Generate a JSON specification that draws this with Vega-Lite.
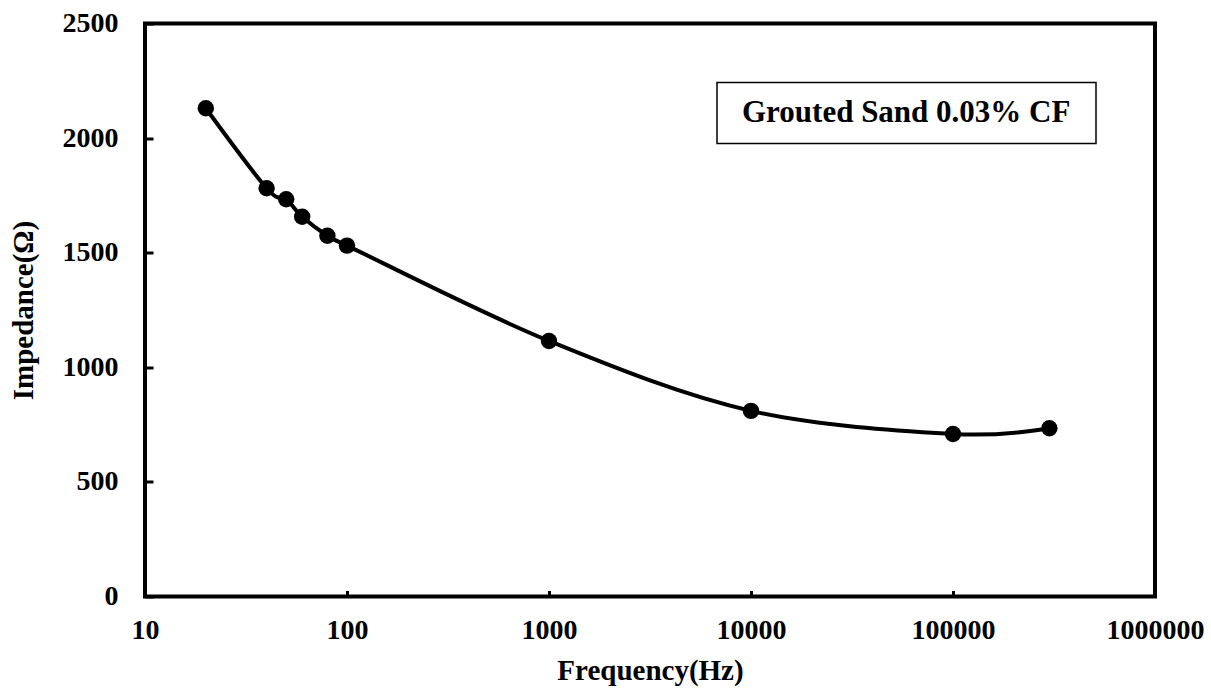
{
  "$schema": "https://vega.github.io/schema/vega-lite/v6.json",
  "width": 1010,
  "height": 573,
  "autosize": {"type": "none"},
  "padding": {"left": 145, "top": 23.5, "right": 56, "bottom": 93.5},
  "background": "white",
  "config": {
    "view": {"stroke": "black", "strokeWidth": 4},
    "font": "Liberation Serif, Times New Roman, serif",
    "legend": {"strokeWidth": 1.5},
    "axis": {
      "labelFont": "Liberation Serif, Times New Roman, serif",
      "labelFontWeight": "bold",
      "labelFontSize": 28,
      "labelColor": "black",
      "titleFont": "Liberation Serif, Times New Roman, serif",
      "titleFontWeight": "bold",
      "titleFontSize": 29,
      "titleColor": "black",
      "domain": false,
      "grid": false,
      "tickColor": "black",
      "tickWidth": 3,
      "labelOverlap": false,
      "labelFlush": false
    }
  },
  "data": {
    "values": [
      {"freq": 20, "imp": 2130, "series": "Grouted Sand 0.03% CF"},
      {"freq": 40, "imp": 1781, "series": "Grouted Sand 0.03% CF"},
      {"freq": 50, "imp": 1733, "series": "Grouted Sand 0.03% CF"},
      {"freq": 60, "imp": 1657, "series": "Grouted Sand 0.03% CF"},
      {"freq": 80, "imp": 1574, "series": "Grouted Sand 0.03% CF"},
      {"freq": 100, "imp": 1531, "series": "Grouted Sand 0.03% CF"},
      {"freq": 1000, "imp": 1115, "series": "Grouted Sand 0.03% CF"},
      {"freq": 10000, "imp": 810, "series": "Grouted Sand 0.03% CF"},
      {"freq": 100000, "imp": 709, "series": "Grouted Sand 0.03% CF"},
      {"freq": 300000, "imp": 734, "series": "Grouted Sand 0.03% CF"}
    ]
  },
  "encoding": {
    "x": {
      "field": "freq",
      "type": "quantitative",
      "scale": {"type": "log", "domain": [10, 1000000], "nice": false},
      "axis": {
        "title": "Frequency(Hz)",
        "values": [10, 100, 1000, 10000, 100000, 1000000],
        "format": "d",
        "tickSize": -6,
        "labelPadding": 26,
        "titlePadding": 12
      }
    },
    "y": {
      "field": "imp",
      "type": "quantitative",
      "scale": {"domain": [0, 2500], "nice": false},
      "axis": {
        "title": "Impedance(Ω)",
        "values": [0, 500, 1000, 1500, 2000, 2500],
        "format": "d",
        "tickSize": -8,
        "labelPadding": 35,
        "titlePadding": 24
      }
    }
  },
  "layer": [
    {
      "mark": {"type": "line", "interpolate": "cardinal", "strokeWidth": 4, "color": "black"}
    },
    {
      "mark": {"type": "point", "filled": true, "size": 270, "opacity": 1},
      "encoding": {
        "color": {
          "field": "series",
          "type": "nominal",
          "scale": {"range": ["black"]},
          "legend": {
            "title": " ",
            "titleOrient": "right",
            "titlePadding": 11,
            "titleFontSize": 10,
            "orient": "none",
            "legendX": 572,
            "legendY": 59,
            "padding": 15,
            "strokeColor": "black",
            "fillColor": "white",
            "symbolType": "circle",
            "symbolSize": 0,
            "symbolOpacity": 0,
            "symbolStrokeWidth": 0,
            "labelFont": "Liberation Serif, Times New Roman, serif",
            "labelFontWeight": "bold",
            "labelFontSize": 31,
            "labelColor": "black",
            "labelOffset": -21,
            "labelLimit": 0
          }
        }
      }
    }
  ]
}
